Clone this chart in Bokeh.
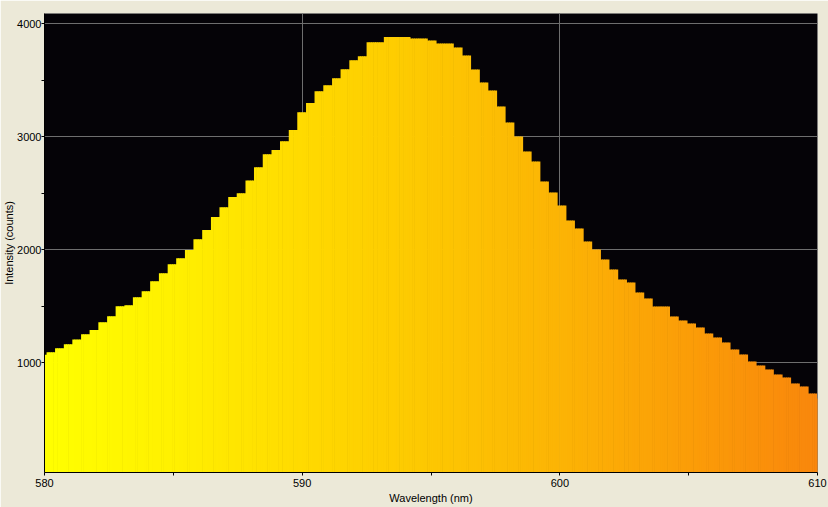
from bokeh.plotting import figure
from bokeh.models import Range1d, FixedTicker, ColumnDataSource
from bokeh.transform import linear_cmap
from bokeh.embed import file_html
from bokeh.resources import INLINE

# ---- data ----
wavelength_nm = [
    579.91, 580.25, 580.58, 580.92, 581.25, 581.59, 581.92, 582.26, 582.60, 582.93,
    583.27, 583.60, 583.94, 584.27, 584.61, 584.95, 585.28, 585.62, 585.95, 586.29,
    586.63, 586.96, 587.30, 587.63, 587.97, 588.30, 588.64, 588.98, 589.31, 589.65,
    589.98, 590.32, 590.65, 590.99, 591.33, 591.66, 592.00, 592.33, 592.67, 593.00,
    593.34, 593.68, 594.01, 594.35, 594.68, 595.02, 595.35, 595.69, 596.03, 596.36,
    596.70, 597.03, 597.37, 597.70, 598.04, 598.38, 598.71, 599.05, 599.38, 599.72,
    600.06, 600.39, 600.73, 601.06, 601.40, 601.73, 602.07, 602.41, 602.74, 603.08,
    603.41, 603.75, 604.08, 604.42, 604.76, 605.09, 605.43, 605.76, 606.10, 606.43,
    606.77, 607.11, 607.44, 607.78, 608.11, 608.45, 608.78, 609.12, 609.46, 609.79, 610.13,
]
intensity_counts = [
    1071, 1094, 1129, 1165, 1206, 1253, 1289, 1359, 1412, 1501,
    1510, 1581, 1634, 1722, 1793, 1873, 1926, 1997, 2094, 2174,
    2289, 2377, 2466, 2501, 2613, 2731, 2846, 2882, 2961, 3059,
    3218, 3298, 3404, 3457, 3519, 3598, 3678, 3713, 3837, 3837,
    3882, 3882, 3882, 3870, 3870, 3852, 3826, 3826, 3790, 3720,
    3596, 3481, 3410, 3268, 3127, 3003, 2870, 2782, 2605, 2507,
    2392, 2259, 2189, 2074, 2003, 1914, 1826, 1737, 1711, 1622,
    1569, 1498, 1498, 1410, 1374, 1348, 1312, 1259, 1224, 1180,
    1118, 1074, 1012, 976, 941, 896, 870, 817, 790, 728, 684,
]
x_ticks = [580, 590, 600, 610]
x_minor_ticks = [585, 595, 605]
y_ticks = [1000, 2000, 3000, 4000]
y_minor_ticks = [1500, 2500, 3500]
x_label = "Wavelength (nm)"
y_label = "Intensity (counts)"

# ---- styling ----
anchors = [(255, 255, 0), (255, 240, 0), (255, 218, 0), (253, 199, 2),
           (252, 180, 5), (251, 157, 8), (249, 135, 12)]
palette = []
n_pal = 256
for i in range(n_pal):
    t = i / (n_pal - 1) * (len(anchors) - 1)
    j = min(int(t), len(anchors) - 2)
    f = t - j
    c = [round(anchors[j][k] + (anchors[j + 1][k] - anchors[j][k]) * f) for k in range(3)]
    palette.append("#%02x%02x%02x" % tuple(c))

# Each bar is painted as a few thin slices so the colour gradient looks smooth.
half = (wavelength_nm[1] - wavelength_nm[0]) / 2
n_slices = 4
cols = dict(x=[], left=[], right=[], top=[], bottom=[])
for w, h in zip(wavelength_nm, intensity_counts):
    lo = w - half
    step = 2 * half / n_slices
    for s in range(n_slices):
        l = lo + s * step
        r = l + step
        cols["x"].append((l + r) / 2)
        cols["left"].append(l)
        cols["right"].append(r + step * 0.3)
        cols["top"].append(h)
        cols["bottom"].append(0)
src = ColumnDataSource(cols)

p = figure(width=828, height=507, output_backend="svg", toolbar_location=None,
           x_range=Range1d(580, 610), y_range=Range1d(29, 4091),
           min_border_left=44, min_border_right=11, min_border_top=13,
           min_border_bottom=35)
p.background_fill_color = "#050307"
p.border_fill_color = "#ECE9D8"
p.outline_line_color = None

cmap = linear_cmap("x", palette, 580, 610)
p.quad(left="left", right="right", top="top", bottom="bottom", source=src,
       fill_color=cmap, line_color=None)

p.xaxis.ticker = FixedTicker(ticks=x_ticks, minor_ticks=x_minor_ticks)
p.yaxis.ticker = FixedTicker(ticks=y_ticks, minor_ticks=y_minor_ticks)
p.xgrid.ticker = FixedTicker(ticks=x_ticks)
p.ygrid.ticker = FixedTicker(ticks=y_ticks)
p.grid.grid_line_color = "#6e6e6e"
p.grid.grid_line_width = 1

p.xaxis.axis_label = x_label
p.yaxis.axis_label = y_label
for ax in (p.xaxis, p.yaxis):
    ax.axis_label_text_font = "Liberation Sans"
    ax.axis_label_text_font_size = "11px"
    ax.axis_label_text_font_style = "normal"
    ax.axis_label_text_color = "black"
    ax.major_label_text_font = "Liberation Sans"
    ax.major_label_text_font_size = "11px"
    ax.major_label_text_color = "black"
    ax.axis_line_color = "black"
    ax.major_tick_line_color = "black"
    ax.minor_tick_line_color = "black"
    ax.major_tick_in = 0
    ax.major_tick_out = 3
    ax.minor_tick_in = 0
    ax.minor_tick_out = 3
p.xaxis.major_label_standoff = 3
p.xaxis.axis_label_standoff = 2
p.yaxis.major_label_standoff = 0
p.yaxis.axis_label_standoff = -1

html = file_html(p, INLINE)
html = html.replace("<body>", '<body style="margin:0;background-color:#ECE9D8;overflow:hidden;">', 1)
open("out.html", "w").write(html)
